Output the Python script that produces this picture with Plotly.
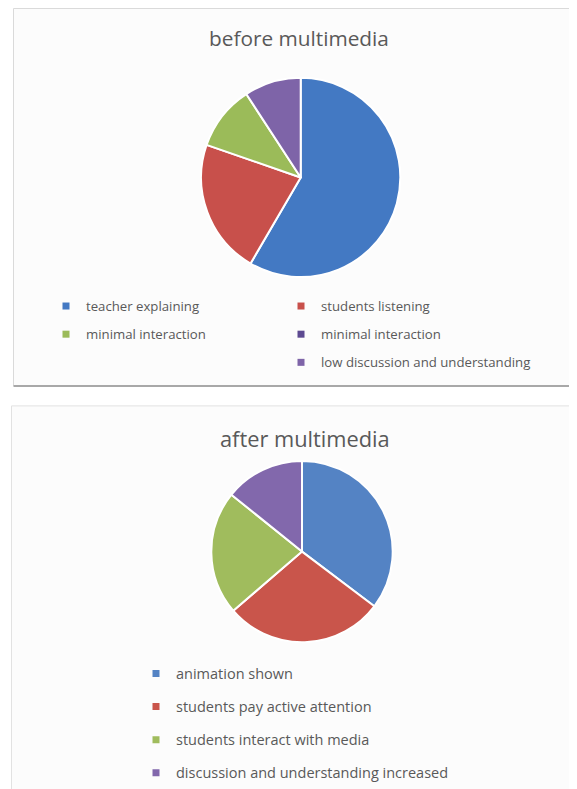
import plotly.graph_objects as go

# page body adds an 8px margin, so the figure is sized to the remaining window
OFF = 8
W, H = 577 - OFF, 789 - OFF

# ---------------- data ----------------
before_title = "before multimedia"
before_labels = ["teacher explaining", "students listening", "minimal interaction",
                 "minimal interaction", "low discussion and understanding"]
before_values = [58.4, 21.9, 10.5, 0, 9.2]
before_colors = ["#4379C3", "#C8504B", "#9BBB59", "#5D4A91", "#7E64A8"]

after_title = "after multimedia"
after_labels = ["animation shown", "students pay active attention",
                "students interact with media", "discussion and understanding increased"]
after_values = [35.3, 28.4, 22.1, 14.2]
after_colors = ["#5483C4", "#C9554B", "#A0BC5D", "#8268AC"]

# ---------------- helpers (window pixel -> paper fraction) ----------------
def px_x(x):
    return (x - OFF) / W

def px_y(y):
    return 1 - (y - OFF) / H

TXT = "#595959"
FONT = "Open Sans"

fig = go.Figure()

# panels (chart frames)
shapes = [
    dict(type="rect", xref="paper", yref="paper", x0=px_x(13.5), x1=px_x(590),
         y0=px_y(389), y1=px_y(8.5), fillcolor="#fcfcfc",
         line=dict(color="#dadada", width=1), layer="below"),
    dict(type="line", xref="paper", yref="paper", x0=px_x(13.5), x1=px_x(590),
         y0=px_y(389.5), y1=px_y(389.5), line=dict(color="#a8a8a8", width=2)),
    dict(type="rect", xref="paper", yref="paper", x0=px_x(11.5), x1=px_x(590),
         y0=px_y(800), y1=px_y(409.5), fillcolor="#fcfcfc",
         line=dict(color="#e2e2e2", width=1), layer="below"),
]

# pies
fig.add_trace(go.Pie(
    labels=before_labels, values=before_values, sort=False, direction="clockwise",
    rotation=0, textinfo="none", showlegend=False,
    marker=dict(colors=before_colors, line=dict(color="white", width=2)),
    domain=dict(x=[px_x(200.2), px_x(401.2)], y=[px_y(279.5), px_y(78.5)]),
    hoverinfo="label+value+percent",
))
fig.add_trace(go.Pie(
    labels=after_labels, values=after_values, sort=False, direction="clockwise",
    rotation=0, textinfo="none", showlegend=False,
    marker=dict(colors=after_colors, line=dict(color="white", width=2)),
    domain=dict(x=[px_x(210.5), px_x(393.5)], y=[px_y(648), px_y(465)]),
    hoverinfo="label+value+percent",
))

# legend entries (legend layout: which column each "before" entry sits in)
before_legend_col = ["legend", "legend2", "legend", "legend2", "legend2"]
for i, (lab, col, c) in enumerate(zip(before_labels, before_legend_col, before_colors)):
    fig.add_trace(go.Scatter(
        x=[None], y=[None], mode="markers", name=lab, legend=col,
        legendgroup=f"b{i}", marker=dict(symbol="square", size=7, color=c),
        hoverinfo="skip",
    ))
for i, (lab, c) in enumerate(zip(after_labels, after_colors)):
    fig.add_trace(go.Scatter(
        x=[None], y=[None], mode="markers", name=lab, legend="legend3",
        legendgroup=f"a{i}", marker=dict(symbol="square", size=7, color=c),
        hoverinfo="skip",
    ))

def leg(x_text, y_first, size, gap):
    return dict(
        x=px_x(x_text - 40), y=px_y(y_first - 11.5), xanchor="left", yanchor="top",
        orientation="v", bgcolor="rgba(0,0,0,0)", borderwidth=0,
        font=dict(family=FONT, size=size, color=TXT), tracegroupgap=gap,
        itemclick=False, itemdoubleclick=False,
    )

annotations = [
    dict(text=before_title, x=px_x(298.5), y=px_y(38), xref="paper", yref="paper",
         showarrow=False, xanchor="center", yanchor="middle",
         font=dict(family=FONT, size=20.8, color=TXT)),
    dict(text=after_title, x=px_x(304.5), y=px_y(442), xref="paper", yref="paper",
         showarrow=False, xanchor="center", yanchor="middle",
         font=dict(family=FONT, size=21.8, color=TXT)),
]

fig.update_layout(
    width=W, height=H, margin=dict(l=0, r=0, t=0, b=0),
    paper_bgcolor="white", plot_bgcolor="rgba(0,0,0,0)",
    xaxis=dict(visible=False), yaxis=dict(visible=False),
    shapes=shapes, annotations=annotations,
    legend=leg(86, 305, 13.2, 8),
    legend2=leg(321, 305, 13.2, 8),
    legend3=leg(176, 675, 14.5, 11.2),
    showlegend=True,
)

fig.write_html("out.html")
